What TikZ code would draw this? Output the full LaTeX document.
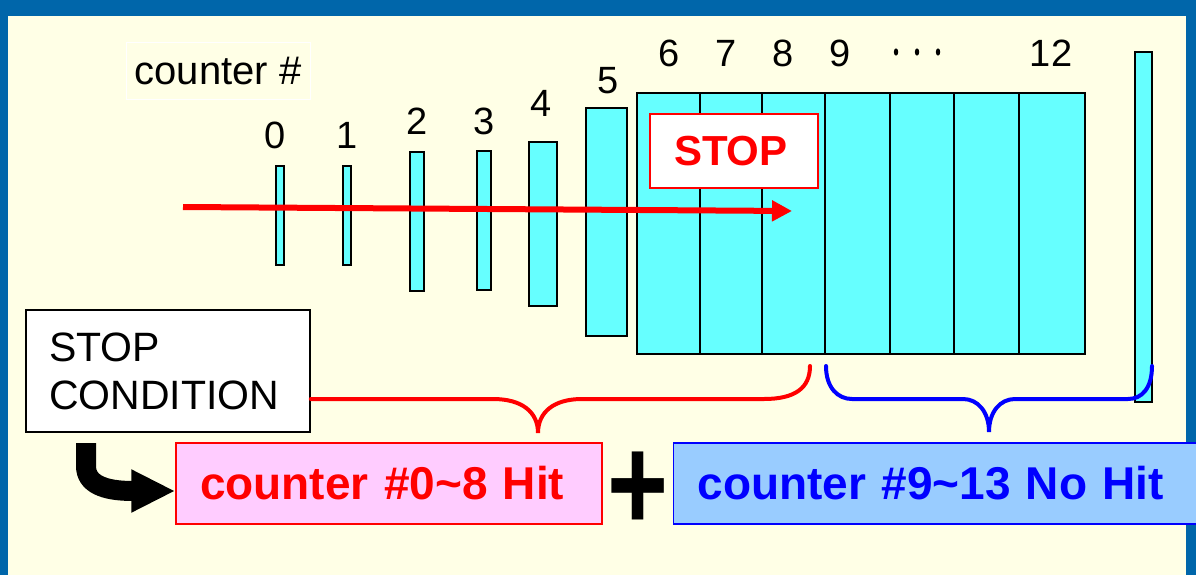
\documentclass[tikz,border=0pt]{standalone}
\usepackage{fontspec}
\setmainfont{Liberation Sans}
\usetikzlibrary{arrows.meta}
\definecolor{frameblue}{RGB}{0,102,170}
\definecolor{cream}{RGB}{255,255,230}
\definecolor{cyanfill}{RGB}{102,255,255}
\definecolor{pinkfill}{RGB}{255,204,255}
\definecolor{bluefill}{RGB}{153,204,255}
\tikzset{
  cntr/.style={draw=black, fill=cyanfill, line width=1.5pt, inner sep=0pt},
  digit/.style={font=\fontsize{38}{40}\selectfont, anchor=base, inner sep=0pt},
  hitbox/.style={draw=red, fill=pinkfill, line width=1.5pt, inner xsep=24pt, inner ysep=0pt, text width=378pt, align=left, minimum width=426pt, minimum height=81pt, text=red, font=\fontsize{46}{50}\selectfont\bfseries},
  nohitbox/.style={draw=blue, fill=bluefill, line width=1.5pt, inner xsep=24pt, inner ysep=0pt, text width=482pt, align=left, minimum width=530pt, minimum height=81pt, text=blue, font=\fontsize{46}{50}\selectfont\bfseries},
  brace/.style={line width=4pt, line cap=round},
}
\begin{document}
\begin{tikzpicture}[x=1pt,y=-1pt]
\useasboundingbox (0,0) rectangle (1196,575);
% frame
\fill[frameblue] (0,0) rectangle (1196,575);
\fill[cream] (8,16) rectangle (1186,575);

% label
\node[draw=white, line width=1pt, minimum width=184pt, minimum height=57pt, inner sep=0pt, font=\fontsize{40}{48}\selectfont] (lab) at (218,71.5) {\raisebox{-2pt}{counter \#}};

% counters
\node[cntr, minimum width=8pt, minimum height=99pt] (c0) at (280,215.5) {};
\node[cntr, minimum width=8pt, minimum height=99pt] (c1) at (347,215.5) {};
\node[cntr, minimum width=14pt, minimum height=139pt] (c2) at (417,221.5) {};
\node[cntr, minimum width=14pt, minimum height=139pt] (c3) at (484,220.5) {};
\node[cntr, minimum width=28pt, minimum height=164pt] (c4) at (543,224) {};
\node[cntr, minimum width=41pt, minimum height=228pt] (c5) at (606.5,222) {};
\node[cntr, minimum width=63pt, minimum height=261pt] (c6) at (668.5,223.5) {};
\node[cntr, minimum width=62pt, minimum height=261pt] (c7) at (731,223.5) {};
\node[cntr, minimum width=63pt, minimum height=261pt] (c8) at (793.5,223.5) {};
\node[cntr, minimum width=65pt, minimum height=261pt] (c9) at (857.5,223.5) {};
\node[cntr, minimum width=64pt, minimum height=261pt] (c10) at (922,223.5) {};
\node[cntr, minimum width=65pt, minimum height=261pt] (c11) at (986.5,223.5) {};
\node[cntr, minimum width=66pt, minimum height=261pt] (c12) at (1052,223.5) {};
\node[cntr, minimum width=17pt, minimum height=350pt] (c13) at (1143.5,227) {};

% digits
\node[digit] (d0) at (275,149) {0};
\node[digit] (d1) at (347,149) {1};
\node[digit] (d2) at (417,135) {2};
\node[digit] (d3) at (484,135) {3};
\node[digit] (d4) at (541,117) {4};
\node[digit] (d5) at (608,94) {5};
\node[digit] (d6) at (669,67) {6};
\node[digit] (d7) at (726,67) {7};
\node[digit] (d8) at (783,67) {8};
\node[digit] (d9) at (840,67) {9};
\node[digit] (d12) at (1051,67) {12};
\fill (896,52) ellipse [x radius=2.2pt, y radius=3.6pt];
\fill (917,52) ellipse [x radius=2.2pt, y radius=3.6pt];
\fill (938,52) ellipse [x radius=2.2pt, y radius=3.6pt];

% STOP box
\node[draw=red, fill=white, line width=1.5pt, minimum width=168pt, minimum height=74pt, inner xsep=24pt, inner ysep=0pt, text width=120pt, align=left, text=red, font=\fontsize{42}{44}\selectfont\bfseries] (stop) at (734,151) {STOP};

% red arrow
\coordinate (ra0) at (183,207);
\coordinate (ra1) at (792,211);
\draw[red, line width=6pt, -{Triangle[length=20pt,width=20pt]}] (ra0) -- (ra1);

% stop condition box
\node[draw=black, fill=white, line width=1.5pt, minimum width=284pt, minimum height=122pt, inner xsep=23pt, inner ysep=0pt, text width=238pt, align=left, font=\fontsize{41}{48}\selectfont] (cond) at (168,371) {STOP\\CONDITION};

% braces
\coordinate (rb0) at (cond.east |- 0,399);
\draw[brace, red] (rb0) -- (493,399) .. controls (522,399) and (538,412) .. (538,433)
  .. controls (538,412) and (554,399) .. (582,399) -- (764,399)
  .. controls (795,399) and (810,388) .. (810,366);
\draw[brace, blue] (826,366) .. controls (826,388) and (838,399) .. (852,399) -- (963,399)
  .. controls (978,399) and (989,412) .. (989,432)
  .. controls (989,412) and (1000,399) .. (1015,399) -- (1128,399)
  .. controls (1142,399) and (1152,388) .. (1152,366);

% result boxes
\node[hitbox] (hit) at (389,483.5) {counter \#0\char`\~8 Hit};
\node[nohitbox] (nohit) at (938.5,483.5) {counter \#9\char`\~13 No Hit};
\node[anchor=base, inner sep=0pt, font=\fontsize{134}{140}\selectfont\bfseries, xscale=0.78] (plus) at (638,530) {+};

% black bent arrow
\coordinate (ka) at (86,443);
\coordinate (kb) at (hit.west |- 0,491);
\draw[black, line width=20pt, -{Triangle[length=44pt,width=40pt]}] (ka) -- (86,466)
  .. controls (86,484) and (104,491) .. (133,491) -- (kb);
\end{tikzpicture}
\end{document}
